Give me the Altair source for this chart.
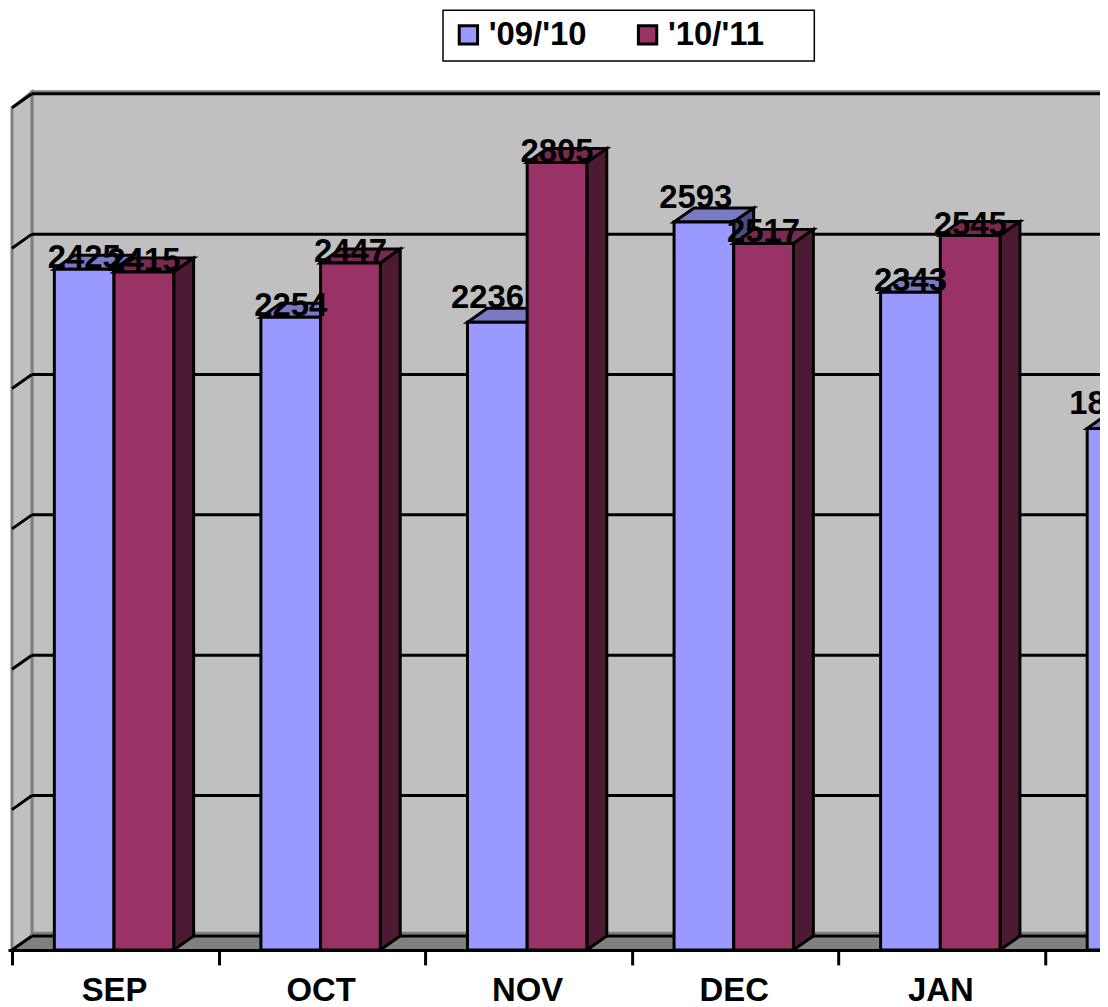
import altair as alt
import pandas as pd

MONTHS = ["SEP", "OCT", "NOV", "DEC", "JAN", "FEB"]
SERIES = ["'09/'10", "'10/'11"]
VALUES_0910 = [2425, 2254, 2236, 2593, 2343, 1858]
VALUES_1011 = [2415, 2447, 2805, 2517, 2545, None]
GRID_VALUES = [0, 500, 1000, 1500, 2000, 2500, 3000]

# Hand-moved data labels in the original (month index -> shift in x units, y units)
LABEL_SHIFT_0910 = {2: (-0.048, 48), 3: (-0.039, 48), 5: (-0.055, 48)}

FRONT = {SERIES[0]: "#9999FF", SERIES[1]: "#993366"}
TOP = {SERIES[0]: "#7A7AC4", SERIES[1]: "#7A2952"}
SIDE = {SERIES[0]: "#4C4C80", SERIES[1]: "#4D1A33"}
WALL, FLOOR, EDGE = "#C0C0C0", "#808080", "#000000"
FONT = "Liberation Sans"
LW = 3

# 3-D look, expressed in the axes' own units
BAR_W, DEPTH_X, DEPTH_Y, CENTER = 0.289, 0.0964, 50, 0.494
XDOM = [-0.0193, 5.267]
YDOM = [0, 3347.5]
W, H = 1097, 944

xs = alt.Scale(domain=XDOM, nice=False, zero=False)
ys = alt.Scale(domain=YDOM, nice=False, zero=False)
AXIS = alt.Axis(values=list(range(len(MONTHS))),
                labelExpr="['SEP','OCT','NOV','DEC','JAN','FEB'][datum.value]",
                labelOffset=102.5, labelFont=FONT, labelFontSize=33, labelFontWeight="bold",
                labelColor="black", labelPadding=10, labelBound=False, labelFlush=False,
                labelOverlap=False, grid=False, title=None,
                tickSize=15, tickWidth=LW, tickColor="black",
                domainColor="black", domainWidth=LW, zindex=1)
X = lambda f="x": alt.X(f"{f}:Q", scale=xs, axis=AXIS)
Y = lambda f="y": alt.Y(f"{f}:Q", scale=ys, axis=None)

bars, tops, sides, labels = [], [], [], []
for s, vals in enumerate([VALUES_0910, VALUES_1011]):
    name = SERIES[s]
    for i, v in enumerate(vals):
        if v is None:
            continue
        left = i + CENTER + (s - 1) * BAR_W
        right = left + BAR_W
        key = f"{s}-{i}"
        bars.append(dict(series=name, left=left, right=right, v=v))
        tops += [
            dict(series=name, key=key, y=v, a=left, b=right),
            dict(series=name, key=key, y=v + DEPTH_Y, a=left + DEPTH_X, b=right + DEPTH_X),
        ]
        sides += [
            dict(series=name, key=key, x=right, y=v, y2=0),
            dict(series=name, key=key, x=right + DEPTH_X, y=v + DEPTH_Y, y2=DEPTH_Y),
        ]
        dx, dy = (LABEL_SHIFT_0910.get(i, (0, 0)) if s == 0 else (0, 0))
        labels.append(dict(x=(left + right) / 2 + dx, y=v + dy, text=str(v)))

bars, tops, sides, labels = map(pd.DataFrame, (bars, tops, sides, labels))


def series_layers(name):
    t = tops[tops.series == name]
    sd = sides[sides.series == name]
    return [
        alt.Chart(t).mark_area(orient="horizontal", clip=True, fill=TOP[name], stroke=EDGE, strokeWidth=LW).encode(
            y=Y(), x=X("a"), x2="b:Q", detail="key:N"),
        alt.Chart(sd).mark_area(orient="vertical", clip=True, fill=SIDE[name], stroke=EDGE, strokeWidth=LW).encode(
            x=X(), y=Y(), y2="y2:Q", detail="key:N"),
    ]


front_enc = dict(
    x=X("left"), x2="right:Q", y=Y("v"), y2=alt.Y2(datum=0),
    color=alt.Color("series:N",
                    scale=alt.Scale(domain=SERIES, range=[FRONT[s] for s in SERIES]),
                    legend=alt.Legend(orient="none", legendX=446, legendY=8, direction="horizontal",
                                      title=None, symbolType="square", symbolSize=340,
                                      symbolStrokeColor="black", symbolStrokeWidth=LW,
                                      symbolOpacity=1, labelFont=FONT, labelFontSize=33,
                                      labelFontWeight="bold", labelColor="black",
                                      labelOffset=4, columnPadding=44, padding=0)),
)

top_v = GRID_VALUES[-1]
EDGE_GAP = 7  # the grey wall edge sits just above the top gridline
left_wall = pd.DataFrame([dict(x=0, y=top_v, y2=0), dict(x=DEPTH_X, y=top_v + DEPTH_Y + EDGE_GAP, y2=DEPTH_Y)])
floor = pd.DataFrame([dict(y=0, a=0, b=XDOM[1] + 1), dict(y=DEPTH_Y, a=DEPTH_X, b=XDOM[1] + 1)])
wall = pd.DataFrame([dict(a=DEPTH_X, b=XDOM[1] + 1, y=DEPTH_Y, y2=top_v + DEPTH_Y + EDGE_GAP)])
grid = pd.DataFrame([dict(y=v + DEPTH_Y, a=DEPTH_X, b=XDOM[1]) for v in GRID_VALUES])
diag = pd.DataFrame([r for v in GRID_VALUES for r in (dict(k=v, x=0, y=v), dict(k=v, x=DEPTH_X, y=v + DEPTH_Y))])
base_band = pd.DataFrame([dict(y=DEPTH_Y + 10, a=DEPTH_X, b=XDOM[1])])

layers = [
    alt.Chart(wall).mark_rect(fill=WALL, stroke=FLOOR, strokeWidth=LW, clip=True).encode(
        x=X("a"), x2="b:Q", y=Y(), y2="y2:Q"),
    alt.Chart(left_wall).mark_area(orient="vertical", fill=WALL, stroke=FLOOR, strokeWidth=LW, clip=True).encode(
        x=X(), y=Y(), y2="y2:Q"),
    alt.Chart(floor).mark_area(orient="horizontal", fill=FLOOR, clip=True).encode(
        y=Y(), x=X("a"), x2="b:Q"),
    alt.Chart(base_band).mark_rule(color=FLOOR, strokeWidth=LW).encode(y=Y(), x=X("a"), x2="b:Q"),
    alt.Chart(grid).mark_rule(color=EDGE, strokeWidth=LW).encode(y=Y(), x=X("a"), x2="b:Q"),
    alt.Chart(diag[diag.k > 0]).mark_line(color=EDGE, strokeWidth=LW).encode(x=X(), y=Y(), detail="k:N"),
    alt.Chart(diag[diag.k == 0]).mark_line(color=EDGE, strokeWidth=LW).encode(x=X(), y=Y()),
]
layers += series_layers(SERIES[0])
layers.append(alt.Chart(bars[bars.series == SERIES[0]]).mark_rect(stroke=EDGE, strokeWidth=LW, clip=True).encode(**front_enc))
layers += series_layers(SERIES[1])
layers.append(alt.Chart(bars[bars.series == SERIES[1]]).mark_rect(stroke=EDGE, strokeWidth=LW, clip=True).encode(**front_enc))
layers.append(
    alt.Chart(labels).mark_text(font=FONT, fontSize=33, fontWeight="bold", color="black",
                                align="center", baseline="alphabetic", dy=-1, clip=True).encode(
        x=X(), y=Y(), text="text:N"))
layers.append(
    alt.Chart(pd.DataFrame([dict(k=0)])).mark_rect(fill="white", stroke="black", strokeWidth=1.5).encode(
        x=alt.value(437), x2=alt.value(810), y=alt.value(0), y2=alt.value(51)))

chart = (
    alt.layer(*layers)
    .resolve_scale(x="shared", y="shared", color="shared")
    .properties(width=W, height=H, padding={"left": 0, "top": 0, "right": 0, "bottom": 54},
                autosize=alt.AutoSizeParams(type="none"))
    .configure_view(stroke=None)
)

chart.save("out.html", embed_options={"renderer": "svg", "actions": False})
